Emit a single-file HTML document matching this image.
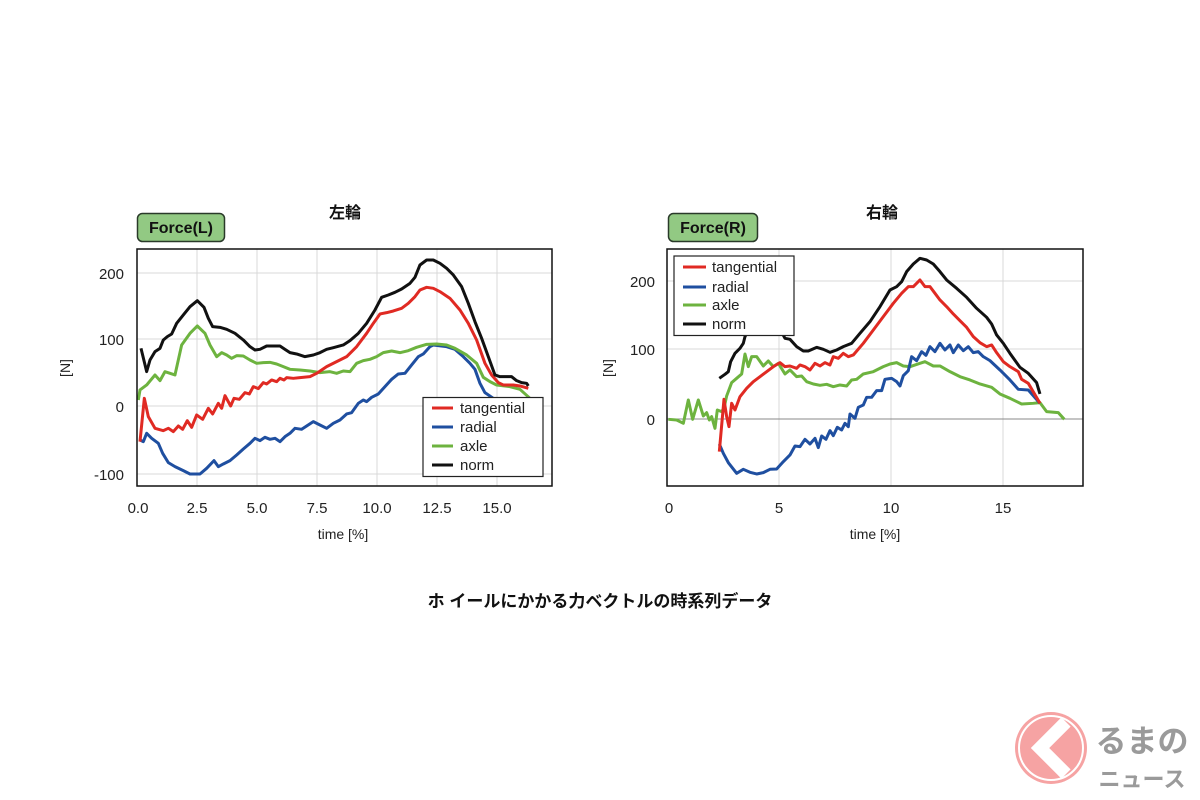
<!DOCTYPE html>
<html><head><meta charset="utf-8"><style>
html,body{margin:0;padding:0;background:#fff;}
svg{display:block;font-family:"Liberation Sans","Noto Sans CJK JP",sans-serif;}
</style></head><body>
<svg width="1200" height="800" viewBox="0 0 1200 800" xmlns="http://www.w3.org/2000/svg">
<rect width="1200" height="800" fill="#fff"/>

<!-- LEFT -->
<text x="345" y="218" font-size="16" font-weight="bold" text-anchor="middle" fill="#111">左輪</text>
<rect x="137.5" y="213.5" width="87" height="28" rx="5" fill="#92c983" stroke="#2a3a2a" stroke-width="1.5"/>
<text x="181" y="233" font-size="16" font-weight="bold" text-anchor="middle" fill="#111">Force(L)</text>
<g stroke="#d8d8d8" stroke-width="1">
<line x1="197" y1="249" x2="197" y2="486"/><line x1="257" y1="249" x2="257" y2="486"/><line x1="317" y1="249" x2="317" y2="486"/><line x1="377" y1="249" x2="377" y2="486"/><line x1="437" y1="249" x2="437" y2="486"/><line x1="497" y1="249" x2="497" y2="486"/>
<line x1="137" y1="273" x2="552" y2="273"/><line x1="137" y1="339" x2="552" y2="339"/><line x1="137" y1="406" x2="552" y2="406"/><line x1="137" y1="474" x2="552" y2="474"/>
</g>
<g font-size="15" fill="#222" text-anchor="end">
<text x="124" y="279">200</text><text x="124" y="345">100</text><text x="124" y="412">0</text><text x="124" y="480">-100</text>
</g>
<g font-size="15" fill="#222" text-anchor="middle">
<text x="138" y="513">0.0</text><text x="197" y="513">2.5</text><text x="257" y="513">5.0</text><text x="317" y="513">7.5</text><text x="377" y="513">10.0</text><text x="437" y="513">12.5</text><text x="497" y="513">15.0</text>
<text x="343" y="539" font-size="14">time [%]</text>
</g>
<text transform="translate(70,368) rotate(-90)" font-size="14" text-anchor="middle" fill="#222">[N]</text>
<g transform="translate(80,190) scale(0.3333)" fill="none" stroke-width="9" stroke-linejoin="round">
<polyline stroke="#1f4fa0" points="180,750 190,755 200,730 215,745 235,760 248,790 265,818 285,830 310,842 330,852 360,852 380,835 402,812 415,830 430,822 450,812 470,795 490,777 510,760 525,745 540,752 555,742 570,748 585,745 600,755 615,740 630,730 645,715 665,718 680,708 700,695 720,705 740,715 760,700 780,690 800,672 815,668 835,640 850,630 860,635 875,622 895,612 915,590 935,568 955,552 975,550 995,525 1015,500 1030,492 1050,470 1060,465 1075,467 1100,470 1125,478 1150,500 1170,520 1185,538 1200,580 1215,608 1240,625 1260,638 1290,635"/>
<polyline stroke="#6db33f" points="175,630 180,600 200,585 225,555 240,572 255,545 285,555 305,465 330,430 352,408 375,430 390,465 410,500 425,488 440,495 455,505 470,497 490,498 510,510 530,520 550,518 570,517 590,522 610,530 630,538 660,540 690,543 720,548 750,545 770,550 790,543 810,545 830,520 850,512 870,508 890,500 910,488 935,483 960,488 985,482 1010,472 1040,463 1070,462 1100,465 1125,475 1160,495 1190,520 1210,562 1230,575 1250,585 1290,590 1320,598 1350,625"/>
<polyline stroke="#e02a23" points="180,755 193,625 205,680 225,715 250,722 265,715 280,725 295,708 308,718 322,692 335,712 350,675 368,688 385,655 398,672 415,640 425,655 435,617 452,648 462,625 478,628 495,608 508,612 520,590 535,596 550,578 560,582 575,570 590,575 600,565 612,570 620,563 640,565 660,563 690,560 710,550 740,530 770,515 800,500 830,470 860,430 880,400 900,372 920,368 940,363 965,355 985,340 1005,320 1020,300 1040,292 1060,295 1080,305 1110,325 1140,360 1165,400 1190,450 1215,520 1235,555 1255,578 1270,585 1300,585 1320,588 1345,595"/>
<polyline stroke="#111" points="183,475 200,545 210,510 225,485 240,475 250,450 262,440 275,432 290,400 310,375 330,350 352,332 372,352 385,385 398,410 420,412 440,418 465,430 490,450 510,470 525,480 540,478 560,468 600,468 615,478 630,488 650,492 675,500 700,495 720,488 740,478 760,473 790,465 810,452 835,430 860,400 885,360 905,322 925,315 945,307 965,297 990,280 1005,262 1020,225 1040,210 1060,210 1080,220 1100,235 1120,255 1145,290 1165,340 1185,395 1205,445 1225,500 1245,555 1260,560 1295,560 1310,572 1325,578 1340,580 1345,588"/>
</g>
<rect x="137" y="249" width="415" height="237" fill="none" stroke="#111" stroke-width="1.5"/>
<rect x="423" y="397.5" width="120" height="79" fill="#fff" stroke="#222" stroke-width="1.2"/>
<g stroke-width="3"><line x1="432" y1="408" x2="453" y2="408" stroke="#e02a23"/><line x1="432" y1="427" x2="453" y2="427" stroke="#1f4fa0"/><line x1="432" y1="446" x2="453" y2="446" stroke="#6db33f"/><line x1="432" y1="465" x2="453" y2="465" stroke="#111"/></g>
<g font-size="15" fill="#222"><text x="460" y="413">tangential</text><text x="460" y="432">radial</text><text x="460" y="451">axle</text><text x="460" y="470">norm</text></g>

<!-- RIGHT -->
<text x="882" y="218" font-size="16" font-weight="bold" text-anchor="middle" fill="#111">右輪</text>
<rect x="668.5" y="213.5" width="89" height="28" rx="5" fill="#92c983" stroke="#2a3a2a" stroke-width="1.5"/>
<text x="713" y="233" font-size="16" font-weight="bold" text-anchor="middle" fill="#111">Force(R)</text>
<g stroke="#d8d8d8" stroke-width="1">
<line x1="779" y1="249" x2="779" y2="486"/><line x1="891" y1="249" x2="891" y2="486"/><line x1="1003" y1="249" x2="1003" y2="486"/>
<line x1="667" y1="281" x2="1083" y2="281"/><line x1="667" y1="349" x2="1083" y2="349"/>
</g>
<line x1="667" y1="419" x2="1083" y2="419" stroke="#888" stroke-width="1"/>
<g font-size="15" fill="#222" text-anchor="end">
<text x="655" y="287">200</text><text x="655" y="355">100</text><text x="655" y="425">0</text>
</g>
<g font-size="15" fill="#222" text-anchor="middle">
<text x="669" y="513">0</text><text x="779" y="513">5</text><text x="891" y="513">10</text><text x="1003" y="513">15</text>
<text x="875" y="539" font-size="14">time [%]</text>
</g>
<text transform="translate(613,368) rotate(-90)" font-size="14" text-anchor="middle" fill="#222">[N]</text>
<g transform="translate(600,190) scale(0.3333)" fill="none" stroke-width="9" stroke-linejoin="round">
<polyline stroke="#6db33f" points="205,688 230,690 250,700 265,630 278,688 295,630 310,678 320,668 328,690 335,680 345,715 352,660 365,665 372,655 380,618 395,578 410,565 425,552 435,492 445,530 455,500 470,500 490,528 505,513 520,530 535,520 555,552 570,540 590,560 605,558 620,575 640,582 660,586 680,583 700,590 720,585 740,588 755,570 770,568 790,552 820,545 850,530 870,522 890,518 910,528 930,530 960,520 975,515 1000,528 1020,528 1050,545 1080,560 1110,570 1140,582 1175,592 1200,612 1230,625 1265,642 1300,640 1320,638 1340,665 1375,668 1393,688"/>
<polyline stroke="#1f4fa0" points="358,762 370,790 385,818 410,850 430,838 450,847 470,852 490,848 510,838 530,837 550,815 570,795 585,768 600,770 615,748 630,762 645,745 655,773 665,738 678,748 690,722 700,737 712,712 725,720 735,700 745,710 750,672 765,685 775,652 790,645 800,622 815,622 830,602 845,602 855,568 875,565 890,575 900,588 910,557 925,542 935,500 950,512 965,485 978,496 990,470 1005,485 1020,460 1035,480 1050,465 1060,488 1075,465 1090,482 1105,470 1120,488 1135,485 1150,500 1170,512 1200,540 1230,570 1255,598 1285,600 1320,640"/>
<polyline stroke="#e02a23" points="358,785 362,740 372,628 380,680 387,710 395,640 405,660 420,620 440,595 460,575 480,560 500,545 520,530 540,518 555,530 570,528 590,535 600,525 615,530 630,540 645,520 660,528 675,518 690,525 700,500 715,505 730,490 745,500 760,495 790,460 820,420 850,380 880,340 905,310 925,290 940,290 960,270 975,290 990,290 1005,310 1020,330 1040,350 1060,372 1080,392 1100,412 1120,440 1140,458 1160,470 1175,465 1190,488 1210,515 1230,530 1255,545 1265,568 1285,580 1320,640"/>
<polyline stroke="#111" points="358,565 375,553 385,545 392,515 405,490 420,475 430,460 435,440 445,420 460,415 480,420 500,412 520,420 540,418 555,445 570,448 590,470 610,483 625,483 650,472 670,478 690,487 710,480 730,470 755,460 780,430 810,395 840,350 870,300 890,290 905,275 920,245 940,222 960,205 980,210 1000,222 1020,245 1040,270 1070,295 1100,322 1130,355 1160,382 1175,402 1190,435 1210,460 1230,490 1260,532 1285,550 1310,578 1320,612"/>
</g>
<rect x="667" y="249" width="416" height="237" fill="none" stroke="#111" stroke-width="1.5"/>
<rect x="674" y="256" width="120" height="79.5" fill="#fff" stroke="#222" stroke-width="1.2"/>
<g stroke-width="3"><line x1="683" y1="267" x2="706" y2="267" stroke="#e02a23"/><line x1="683" y1="287" x2="706" y2="287" stroke="#1f4fa0"/><line x1="683" y1="305" x2="706" y2="305" stroke="#6db33f"/><line x1="683" y1="324" x2="706" y2="324" stroke="#111"/></g>
<g font-size="15" fill="#222"><text x="712" y="272">tangential</text><text x="712" y="292">radial</text><text x="712" y="310">axle</text><text x="712" y="329">norm</text></g>

<!-- caption -->
<text x="600" y="607" font-size="17" font-weight="bold" text-anchor="middle" fill="#111">ホ イールにかかる力ベクトルの時系列データ</text>

<!-- logo -->
<circle cx="1051" cy="748" r="36" fill="#f6a3a3"/>
<circle cx="1051" cy="748" r="32" fill="none" stroke="#fff" stroke-width="2"/>
<polyline points="1066,722 1040,748 1066,774" fill="none" stroke="#fff" stroke-width="13" stroke-linejoin="miter"/>
<text x="1142" y="752" font-size="31" font-weight="bold" text-anchor="middle" fill="#9a9a9a">るまの</text>
<text x="1142" y="787" font-size="22" font-weight="bold" text-anchor="middle" fill="#9a9a9a">ニュース</text>
</svg>
</body></html>
